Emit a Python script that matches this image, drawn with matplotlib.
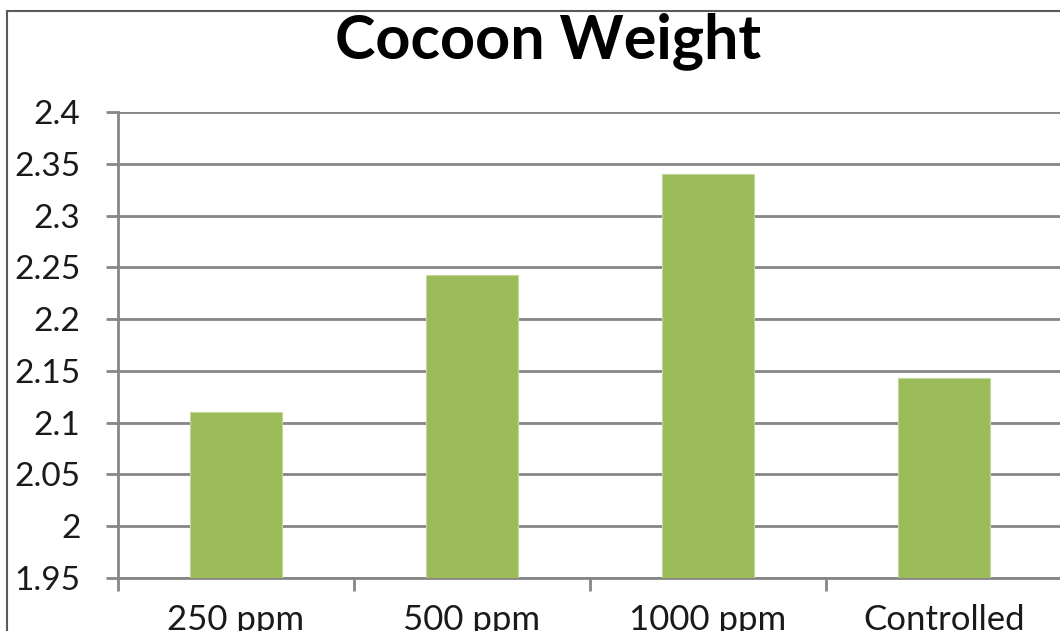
import matplotlib
matplotlib.use('Agg')
import matplotlib.pyplot as plt
from matplotlib.patches import Rectangle
from matplotlib.ticker import FixedLocator

# data
categories = ['250 ppm', '500 ppm', '1000 ppm', 'Controlled']
weights = [2.11, 2.243, 2.34, 2.143]
y_ticks = [1.95, 2.0, 2.05, 2.1, 2.15, 2.2, 2.25, 2.3, 2.35, 2.4]
y_labels = ['1.95', '2', '2.05', '2.1', '2.15', '2.2', '2.25', '2.3', '2.35', '2.4']

plt.rcParams['font.family'] = ['Lato', 'DejaVu Sans']

grey = '#868686'

fig = plt.figure(figsize=(10.6, 6.31), dpi=100)
ax = fig.add_axes([118 / 1060, 1 - 578 / 631, 944 / 1060, 466 / 631])

x = range(len(categories))
ax.bar(x, weights, width=0.39, color='#9BBB59', edgecolor='#C3D69B', linewidth=0.8,
       zorder=3)

ax.set_ylim(1.95, 2.4)
ax.set_xlim(-0.5, 3.5)
ax.set_yticks(y_ticks)
ax.set_yticklabels(y_labels, fontsize=24, color='#1a1a1a')
ax.yaxis.grid(True, color=grey, linewidth=2, zorder=0)

ax.set_xticks(list(x))
ax.set_xticklabels(categories, fontsize=25, color='#1a1a1a')
ax.xaxis.set_minor_locator(FixedLocator([-0.5, 0.5, 1.5, 2.5, 3.5]))
ax.tick_params(axis='x', which='major', length=0, pad=19)
ax.tick_params(axis='x', which='minor', length=9, width=2, color=grey)
ax.tick_params(axis='y', length=9, width=2, color=grey, pad=18)

for s in ['top', 'right']:
    ax.spines[s].set_visible(False)
for s in ['left', 'bottom']:
    ax.spines[s].set_color(grey)
    ax.spines[s].set_linewidth(2)

# chart area frame, running off the right and bottom of the picture
fig.patches.append(Rectangle((7 / 1060, -0.1), 1.2, 1 - 11 / 631 + 0.1,
                             transform=fig.transFigure, fill=False,
                             edgecolor='#5a5a5a', linewidth=1.5))

fig.text(548 / 1060, 1 - 41 / 631, 'Cocoon Weight', fontsize=44, fontweight='bold',
         ha='center', va='center', color='black')

fig.savefig('out.png', dpi=100)
